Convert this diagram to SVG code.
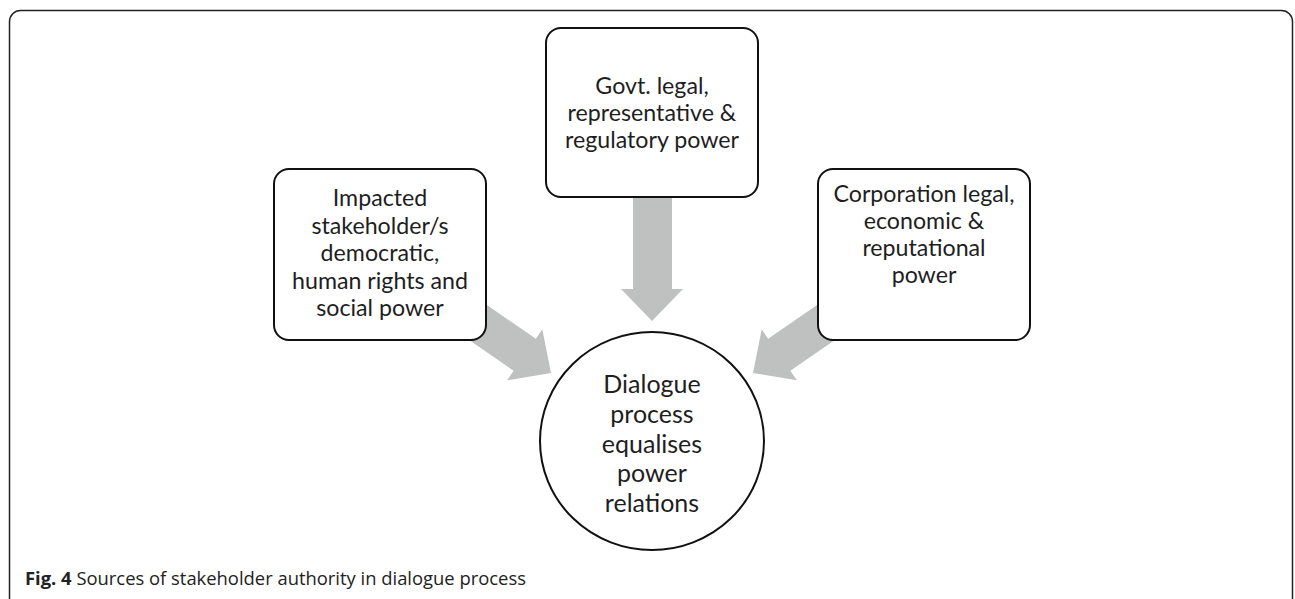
<svg xmlns="http://www.w3.org/2000/svg" width="1295" height="599" viewBox="0 0 1295 599">
<style>
.frame{fill:#fff;stroke:#222;stroke-width:1.5}
.box{fill:#fff;stroke:#111;stroke-width:2}
.arrow{fill:#bfc1c0;stroke:none}
.t{font-family:Lato,"Liberation Sans",sans-serif;font-size:23.2px;fill:#1e1e1e;text-anchor:middle}
.tc{font-family:Lato,"Liberation Sans",sans-serif;font-size:25px;fill:#1e1e1e;text-anchor:middle}
.cap{font-family:"Open Sans","Liberation Sans",sans-serif;font-size:18.4px;fill:#222}
</style>
<rect class="frame" x="9.5" y="10.5" width="1283" height="640" rx="11"/>
<g id="connectors">
<polygon class="arrow" points="633,190 672,190 672,289 683,289 652,321 621,289 633,289"/>
<polygon class="arrow" points="433,315 513.6,370.8 507.1,380.3 551,373 542.3,329.3 535.8,338.8 455.2,283"/>
<polygon class="arrow" points="871,315 790.4,370.8 796.9,380.3 753,373 761.7,329.3 768.2,338.8 848.8,283"/>
</g>
<g id="node-govt">
<rect class="box" x="546" y="28" width="212" height="169" rx="15"/>
<text class="t" x="652" y="94">Govt. legal,</text>
<text class="t" x="652" y="121">representative &amp;</text>
<text class="t" x="652" y="148">regulatory power</text>
</g>
<g id="node-impacted">
<rect class="box" x="274" y="169" width="212" height="171" rx="15"/>
<text class="t" x="380" y="206">Impacted</text>
<text class="t" x="380" y="233.5">stakeholder/s</text>
<text class="t" x="380" y="261">democratic,</text>
<text class="t" x="380" y="288.5">human rights and</text>
<text class="t" x="380" y="316">social power</text>
</g>
<g id="node-corporation">
<rect class="box" x="818" y="169" width="212" height="171" rx="15"/>
<text class="t" x="924" y="202">Corporation legal,</text>
<text class="t" x="924" y="229">economic &amp;</text>
<text class="t" x="924" y="256">reputational</text>
<text class="t" x="924" y="283">power</text>
</g>
<g id="node-dialogue">
<ellipse class="box" cx="652" cy="441" rx="112" ry="109"/>
<text class="tc" x="652" y="393">Dialogue</text>
<text class="tc" x="652" y="422.5">process</text>
<text class="tc" x="652" y="452.5">equalises</text>
<text class="tc" x="652" y="482">power</text>
<text class="tc" x="652" y="511.5">relations</text>
</g>
<text class="cap" x="25" y="585"><tspan font-weight="bold">Fig. 4</tspan> Sources of stakeholder authority in dialogue process</text>
</svg>
